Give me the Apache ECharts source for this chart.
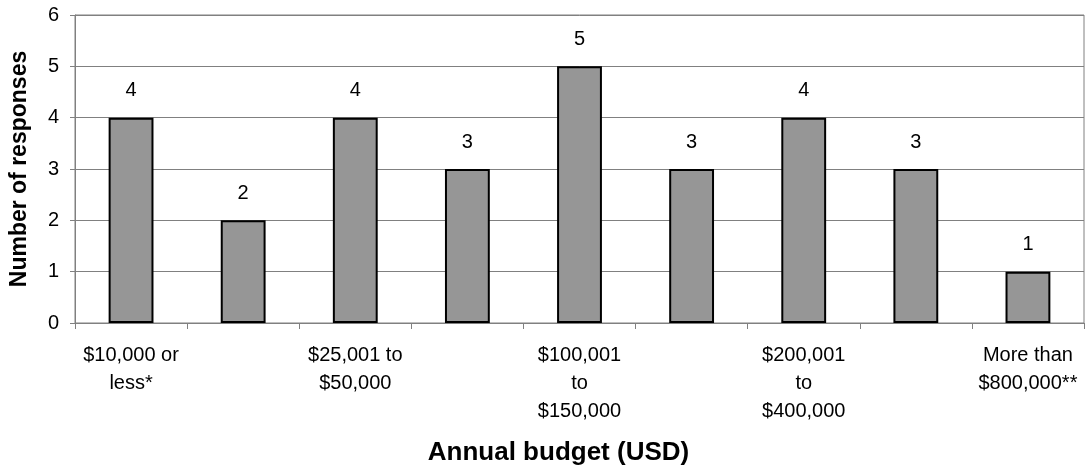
<!DOCTYPE html>
<html>
<head>
<meta charset="utf-8">
<script src="https://cdn.jsdelivr.net/npm/echarts@6/dist/echarts.min.js"></script>
<style>html,body{margin:0;padding:0;background:#fff}#c{width:1087px;height:475px}</style>
</head>
<body>
<div id="c"></div>
<script>
const categories = [
  "$10,000 or\nless*",
  "$10,001 to\n$25,000",
  "$25,001 to\n$50,000",
  "$50,001 to\n$100,000",
  "$100,001\nto\n$150,000",
  "$150,001 to\n$200,000",
  "$200,001\nto\n$400,000",
  "$400,001 to\n$800,000",
  "More than\n$800,000**"
];
const responses = [4, 2, 4, 3, 5, 3, 4, 3, 1];
const yTicks = [0, 1, 2, 3, 4, 5, 6];

const font = "Arial, 'Liberation Sans', sans-serif";
const chart = echarts.init(document.getElementById('c'));
chart.setOption({
  animation: false,
  backgroundColor: '#fff',
  grid: { left: 74, right: 3, top: 15, bottom: 152, show: true, borderColor: '#808080', borderWidth: 1 },
  xAxis: {
    type: 'category',
    data: categories,
    name: 'Annual budget (USD)',
    nameLocation: 'middle',
    nameGap: 117,
    nameTextStyle: { fontFamily: font, fontSize: 26, fontWeight: 'bold', color: '#000', padding: [0, 42, 0, 0] },
    axisLine: { lineStyle: { color: '#808080', width: 1 } },
    axisTick: { show: true, interval: 0, length: 6, lineStyle: { color: '#808080' } },
    axisLabel: { interval: 1, margin: 18, fontFamily: font, fontSize: 20, color: '#000', lineHeight: 28 }
  },
  yAxis: {
    type: 'value',
    min: yTicks[0],
    max: yTicks[yTicks.length - 1],
    interval: 1,
    name: 'Number of responses',
    nameLocation: 'middle',
    nameGap: 44,
    nameTextStyle: { fontFamily: font, fontSize: 23, fontWeight: 'bold', color: '#000' },
    axisLine: { show: true, lineStyle: { color: '#808080', width: 1 } },
    axisTick: { show: true, length: 5, lineStyle: { color: '#808080' } },
    axisLabel: { margin: 16, fontFamily: font, fontSize: 20, color: '#000' },
    splitLine: { show: true, lineStyle: { color: '#808080', width: 1 } }
  },
  series: [{
    type: 'bar',
    data: responses,
    barWidth: '40%',
    itemStyle: { color: '#969696', borderColor: '#000', borderWidth: 2 },
    label: { show: true, position: 'top', distance: 17, fontFamily: font, fontSize: 20, color: '#000' }
  }]
});
</script>
</body>
</html>
